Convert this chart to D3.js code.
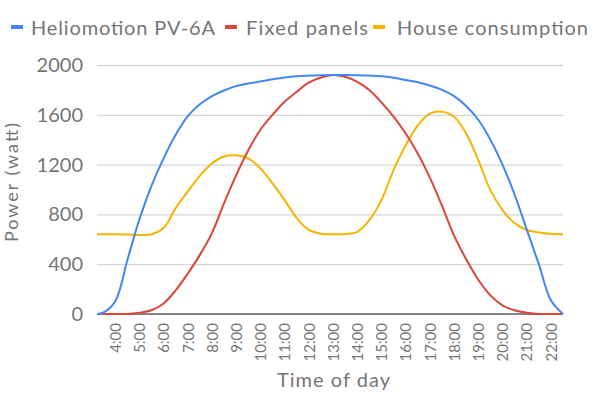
<!DOCTYPE html>
<html>
<head>
    <title>Heliomotion vs fixed panels</title>
</head>
<body>
<style type="text/css">
    body {
        margin: 0;
        background: #fff;
    }

    #renderer {
        width: 600px;
        height: 397px;
        background: #FFF;
        font-family: Lato, "Noto Sans", sans-serif;
    }
</style>
<script type="text/javascript" src="https://cdnjs.cloudflare.com/ajax/libs/d3/7.8.5/d3.min.js"></script>
<svg id='renderer'></svg>

<script type="text/javascript">
    // data (half hour steps, first point 3:15)
    var hours = [3.25, 3.5, 4, 4.5, 5, 5.5, 6, 6.5, 7, 7.5, 8, 8.5, 9, 9.5, 10, 10.5, 11, 11.5, 12, 12.5,
        13, 13.5, 14, 14.5, 15, 15.5, 16, 16.5, 17, 17.5, 18, 18.5, 19, 19.5, 20, 20.5, 21, 21.5, 22, 22.5];

    var heliomotion = [0, 10, 100, 430, 760, 1030, 1250, 1440, 1590, 1685, 1750, 1795, 1830, 1852, 1868, 1885, 1900, 1910, 1915, 1918,
        1920, 1920, 1918, 1915, 1910, 1898, 1880, 1862, 1835, 1800, 1750, 1670, 1560, 1400, 1200, 960, 680, 400, 110, 0];

    var fixedPanels = [0, 0, 0, 0, 10, 30, 85, 190, 325, 475, 650, 890, 1115, 1315, 1480, 1600, 1705, 1785, 1858, 1900,
        1920, 1905, 1865, 1800, 1700, 1585, 1450, 1290, 1095, 870, 630, 440, 275, 150, 70, 30, 10, 0, 0, 0];

    var houseConsumption = [640, 640, 640, 638, 635, 640, 690, 850, 985, 1110, 1210, 1265, 1275, 1250, 1170, 1050, 915, 770, 675, 645,
        640, 642, 660, 755, 915, 1155, 1355, 1515, 1610, 1625, 1585, 1450, 1235, 995, 835, 730, 675, 655, 645, 640];

    var seriesNames = ['Heliomotion PV-6A', 'Fixed panels', 'House consumption'];
    var xTicks = [4, 5, 6, 7, 8, 9, 10, 11, 12, 13, 14, 15, 16, 17, 18, 19, 20, 21, 22];
    var yTicks = [0, 400, 800, 1200, 1600, 2000];

    var root = d3.select('#renderer');

    var plotLeft = 97, plotRight = 563, plotTop = 65, plotBottom = 314;
    var textColor = '#757575';
    var colors = ['#4285F4', '#DB4437', '#F4B400'];

    var x = d3.scaleLinear().domain([3.25, 22.5]).range([plotLeft, plotRight]);
    var y = d3.scaleLinear().domain([0, 2000]).range([plotBottom, plotTop]);

    // grid + y labels
    var yAxis = root.append('g')
        .attr('transform', 'translate(' + plotLeft + ',0)')
        .call(d3.axisLeft(y).tickValues(yTicks).tickFormat(d3.format('d'))
            .tickSize(-(plotRight - plotLeft)).tickPadding(14));
    yAxis.select('.domain').remove();
    yAxis.selectAll('line').attr('stroke', '#cccccc');
    yAxis.selectAll('text')
        .attr('fill', textColor)
        .attr('font-size', 20)
        .attr('font-family', 'Lato, sans-serif');

    // x labels, rotated
    var xAxis = root.append('g')
        .attr('transform', 'translate(0,' + plotBottom + ')')
        .call(d3.axisBottom(x).tickValues(xTicks).tickSize(0).tickFormat(function (d) { return d + ':00'; }));
    xAxis.select('.domain').remove();
    xAxis.selectAll('text')
        .attr('transform', 'rotate(-90)')
        .attr('text-anchor', 'end')
        .attr('x', -9)
        .attr('y', 0)
        .attr('dy', '0.35em')
        .attr('fill', textColor)
        .attr('font-size', 15)
        .attr('font-family', 'Lato, sans-serif');

    // baseline
    root.append('line')
        .attr('x1', plotLeft)
        .attr('x2', plotRight)
        .attr('y1', y(0))
        .attr('y2', y(0))
        .attr('stroke', '#666')
        .attr('stroke-width', 1.5);

    // lines
    var allSeries = [heliomotion, fixedPanels, houseConsumption];
    var line = d3.line()
        .x(function (d, i) { return x(hours[i]); })
        .y(function (d) { return y(d); })
        .curve(d3.curveCatmullRom.alpha(0.5));

    // house consumption first so the panel lines sit on top
    [2, 1, 0].forEach(function (k) {
        root.append('path')
            .datum(allSeries[k])
            .attr('d', line)
            .attr('fill', 'none')
            .attr('stroke', colors[k])
            .attr('stroke-width', 2);
    });

    // axis titles
    root.append('text')
        .text('Time of day')
        .attr('x', 277)
        .attr('y', 387)
        .attr('textLength', 113)
        .attr('lengthAdjust', 'spacing')
        .attr('fill', textColor)
        .attr('font-size', 20);

    root.append('text')
        .text('Power (watt)')
        .attr('transform', 'translate(18,242) rotate(-90)')
        .attr('textLength', 119)
        .attr('lengthAdjust', 'spacing')
        .attr('fill', textColor)
        .attr('font-size', 18);

    // legend
    var legendSwatchX = [11, 225, 373];
    var legendTextX = [31, 246, 397];
    var legendTextW = [184, 122, 191];
    seriesNames.forEach(function (name, i) {
        root.append('rect')
            .attr('x', legendSwatchX[i])
            .attr('y', 25)
            .attr('width', 12)
            .attr('height', 4)
            .attr('fill', colors[i]);
        root.append('text')
            .text(name)
            .attr('x', legendTextX[i])
            .attr('y', 35)
            .attr('textLength', legendTextW[i])
            .attr('lengthAdjust', 'spacing')
            .attr('fill', textColor)
            .attr('font-size', 20);
    });
</script>
</body>
</html>
